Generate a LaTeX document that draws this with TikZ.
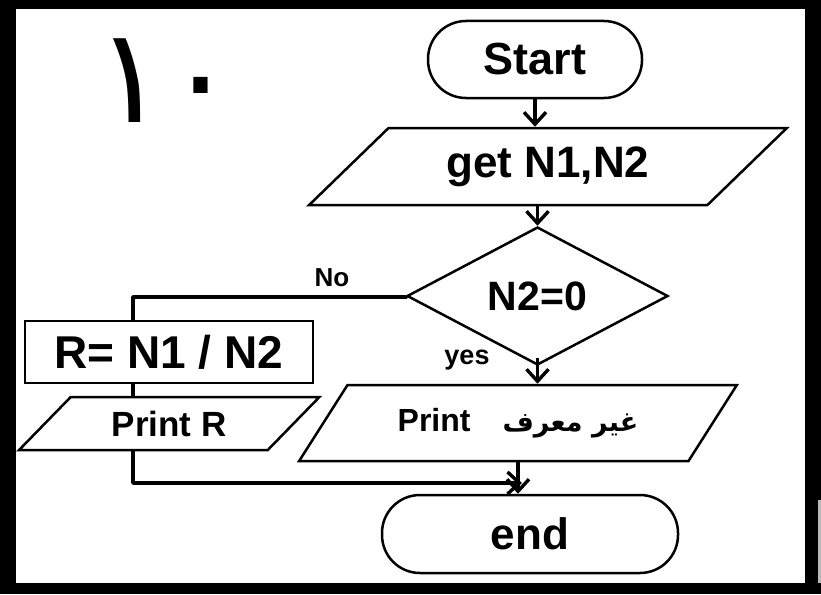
\documentclass[tikz,border=0pt]{standalone}
\usepackage{fontspec}
\setmainfont{Liberation Sans}
\newfontfamily\arabicfont[Script=Arabic]{DejaVu Sans}
\TeXXeTstate=1
\usetikzlibrary{shapes.geometric,arrows.meta,calc}
\tikzset{
  fs/.style={font=\fontsize{#1}{#1}\selectfont\bfseries},
  outl/.style={draw=black,line width=2.5pt},
  term/.style={outl,rectangle,rounded corners=38pt,inner sep=0pt},
  iobox/.style={outl,trapezium,trapezium stretches=true,inner sep=0pt},
  procbox/.style={outl,rectangle,inner sep=0pt},
  decbox/.style={outl,diamond,inner sep=0pt,aspect=1.9},
  conn/.style={line width=3.8pt,line join=round},
  arr/.style={conn,-{Straight Barb[length=12pt,width=22pt,line width=3.4pt]}},
  lbl/.style={inner sep=0pt}
}
\begin{document}
\begin{tikzpicture}[x=1pt,y=-1pt]
\useasboundingbox (0,0) rectangle (821,594);
% frame
\fill[black] (0,0) rectangle (821,594);
\fill[white] (16,9) rectangle (805,583);
\fill[gray!55] (818,500) rectangle (821,583);
% numeral
\node[lbl,font=\fontsize{132}{132}\selectfont] (num) at (166,81) {\arabicfont ١٠};
% nodes
\node[term,minimum width=214pt,minimum height=77pt,fs=45] (start) at (535,59.5) {Start};
\node[iobox,trapezium left angle=38.4,trapezium right angle=141.6,minimum width=479pt,minimum height=77pt,fs=44] (get) at (548,166.5) {get N1,N2};
\node[decbox,minimum width=261pt,minimum height=138pt,fs=41] (dec) at (537.5,296) {N2=0};
\node[procbox,minimum width=288pt,minimum height=62pt,fs=46] (calc) at (169,352) {R= N1 / N2};
\node[iobox,trapezium left angle=40.5,trapezium right angle=139.5,minimum width=301pt,minimum height=53pt,fs=35] (prr) at (169.25,423.5) {Print R};
\node[iobox,trapezium left angle=41.1,trapezium right angle=138.9,minimum width=438pt,minimum height=76pt,fs=32] (pru) at (518,423) {Print\quad{\fontsize{27}{27}\selectfont\arabicfont\beginR غير معرف\endR}};
\node[term,minimum width=296pt,minimum height=78pt,fs=44] (stop) at (530,534) {end};
% labels
\node[lbl,fs=26] (no) at (332,278) {No};
\node[lbl,fs=27] (yes) at (467,360) {yes};
% helper coordinates
\coordinate (nocorner) at (133,297);
\coordinate (merge) at (522,483);
% connectors
\draw[arr] (start.south) -- (start.south |- get.north);
\draw[arr] (get.south -| dec.north) -- (dec.north);
\draw[conn] (dec.west) -- (dec.west |- nocorner) -- (nocorner) -- (nocorner |- calc.north);
\draw[conn] (nocorner |- calc.south) -- (nocorner |- prr.north);
\draw[arr] (nocorner |- prr.south) -- (nocorner |- merge) -- (merge);
\draw[arr] ($(dec.south)+(0,-8)$) -- (dec.south |- pru.north);
\draw[arr] (pru.south) -- (pru.south |- stop.north);
\end{tikzpicture}
\end{document}
